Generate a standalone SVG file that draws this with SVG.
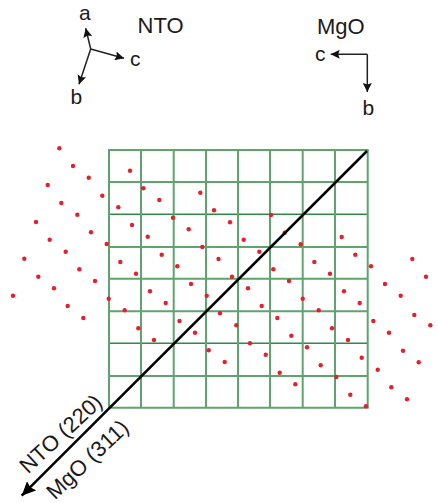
<svg xmlns="http://www.w3.org/2000/svg" width="438" height="503" viewBox="0 0 438 503">
<style>
text{font-family:"Liberation Sans",Arial,sans-serif;font-size:21px;fill:#1a1a1a}
.g{stroke:#5fa36f;stroke-width:2;fill:none}
.gd{stroke:#2f8a4a;stroke-width:1.6;fill:none}
.a{stroke:#222;stroke-width:1.5;fill:none;marker-end:url(#h)}
#dots circle{fill:#e2202e;r:2.2px}
.big{font-size:22px}
</style>
<defs>
<marker id="h" markerUnits="userSpaceOnUse" markerWidth="10" markerHeight="9" refX="9" refY="4.5" orient="auto"><path d="M0 0L9 4.5L0 9L1.5 4.5Z" fill="#111"/></marker>
<marker id="H" markerUnits="userSpaceOnUse" markerWidth="15" markerHeight="13" refX="14" refY="6.5" orient="auto"><path d="M0 0L14 6.5L0 13L2 6.5Z" fill="#000"/></marker>
</defs>
<g id="grid">
<path class="g" d="M108 150H368.7M109 182H367.7M109 247H367.7M109 278.7H367.7M109 311.3H367.7M109 376H367.7M108 407.7H368.7"/>
<path class="gd" d="M109 214.3H367.7M109 343.3H367.7"/>
<path class="g" d="M109 150V407.7M141 150V407.7M173.7 150V407.7M206 150V407.7M238 150V407.7M270 150V407.7M302.7 150V407.7M335 150V407.7M367.7 150V407.7"/>
</g>
<g id="dots">
<circle cx="59.3" cy="148.3"/><circle cx="73" cy="166"/><circle cx="88.7" cy="177.7"/><circle cx="47.7" cy="185"/><circle cx="102.3" cy="195.7"/><circle cx="61.3" cy="203"/><circle cx="118.3" cy="207.3"/><circle cx="77.3" cy="214.7"/><circle cx="36" cy="222"/><circle cx="91" cy="232.3"/><circle cx="49.7" cy="239.7"/><circle cx="106.7" cy="244"/><circle cx="65.7" cy="251.7"/><circle cx="24.3" cy="258.7"/><circle cx="79.3" cy="269.3"/><circle cx="38.3" cy="276.7"/><circle cx="95" cy="281"/><circle cx="54" cy="288.3"/><circle cx="13" cy="295.7"/><circle cx="108.7" cy="298.7"/><circle cx="67.7" cy="306"/><circle cx="124.7" cy="310.3"/><circle cx="83.3" cy="318"/>
<circle cx="130" cy="170.7"/><circle cx="143.3" cy="188.3"/><circle cx="159.3" cy="200"/><circle cx="200.3" cy="192.7"/><circle cx="214" cy="210.3"/><circle cx="173" cy="217.7"/><circle cx="132" cy="225"/><circle cx="188.7" cy="229.3"/><circle cx="147.7" cy="236.7"/><circle cx="202.3" cy="247"/><circle cx="218.5" cy="259"/><circle cx="161.7" cy="254.7"/><circle cx="120.3" cy="262"/><circle cx="177.3" cy="266.3"/><circle cx="136" cy="273.7"/><circle cx="191" cy="284"/><circle cx="150" cy="291.3"/><circle cx="206.7" cy="295.7"/><circle cx="165.7" cy="303"/><circle cx="179.5" cy="321"/><circle cx="220" cy="313.3"/>
<circle cx="230" cy="222.3"/><circle cx="271" cy="215"/><circle cx="284.7" cy="232.7"/><circle cx="243.7" cy="239.7"/><circle cx="300.7" cy="244.3"/><circle cx="341.7" cy="237"/><circle cx="259.3" cy="251.7"/><circle cx="355.3" cy="254.7"/><circle cx="314.3" cy="262"/><circle cx="371" cy="266.3"/><circle cx="412.3" cy="259"/><circle cx="273.3" cy="269.3"/><circle cx="330" cy="273.7"/><circle cx="232" cy="276.7"/><circle cx="426" cy="276.7"/><circle cx="289" cy="281"/><circle cx="248" cy="288.3"/><circle cx="385" cy="284"/><circle cx="344" cy="291.3"/><circle cx="400.7" cy="295.7"/><circle cx="302.7" cy="298.7"/><circle cx="359.7" cy="303"/><circle cx="261.7" cy="306"/><circle cx="318.7" cy="310.3"/><circle cx="414.3" cy="315"/><circle cx="277.3" cy="318"/><circle cx="373.3" cy="321"/>
<circle cx="138.3" cy="328.3"/><circle cx="195" cy="332.7"/><circle cx="154" cy="340"/><circle cx="208.7" cy="350.3"/>
<circle cx="430.3" cy="325.3"/><circle cx="236.3" cy="325.3"/><circle cx="332" cy="328.3"/><circle cx="389" cy="332.7"/><circle cx="291.3" cy="335.7"/><circle cx="348" cy="340"/><circle cx="250" cy="343.3"/><circle cx="307" cy="347.3"/><circle cx="403" cy="350.7"/><circle cx="265.7" cy="354.7"/><circle cx="361.7" cy="357.7"/><circle cx="224.7" cy="362"/><circle cx="418.7" cy="362.3"/><circle cx="320.7" cy="365.3"/><circle cx="377.7" cy="369.7"/><circle cx="279.7" cy="372.7"/><circle cx="336.3" cy="377"/><circle cx="295.3" cy="384.3"/><circle cx="391.3" cy="387.3"/><circle cx="350.3" cy="394.7"/><circle cx="407" cy="399.3"/><circle cx="366" cy="406.3"/>
</g>
<g id="connectors">
<path d="M367 151L21.7 495.7" stroke="#000" stroke-width="2.5" fill="none" marker-end="url(#H)"/>
<path class="a" d="M90.7 49L85.7 28.3"/>
<path class="a" d="M90.7 49L124 58.3"/>
<path class="a" d="M90.7 49L79 84.3"/>
<path class="a" d="M367.3 54.3H330.7"/>
<path class="a" d="M367.3 54.3V92"/>
</g>
<g id="nto-axes"><text x="79" y="20">a</text><text x="130" y="65.7">c</text><text x="70.5" y="104">b</text><text class="big" x="137.5" y="32.5">NTO</text></g>
<g id="mgo-axes"><text x="315" y="61">c</text><text x="362.5" y="115">b</text><text class="big" x="317" y="33.5">MgO</text></g>
<g id="labels">
<text class="big" transform="translate(28 474.5) rotate(-43)">NTO (220)</text>
<text class="big" transform="translate(55 500.5) rotate(-43.5)">MgO (311)</text>
</g>
</svg>
